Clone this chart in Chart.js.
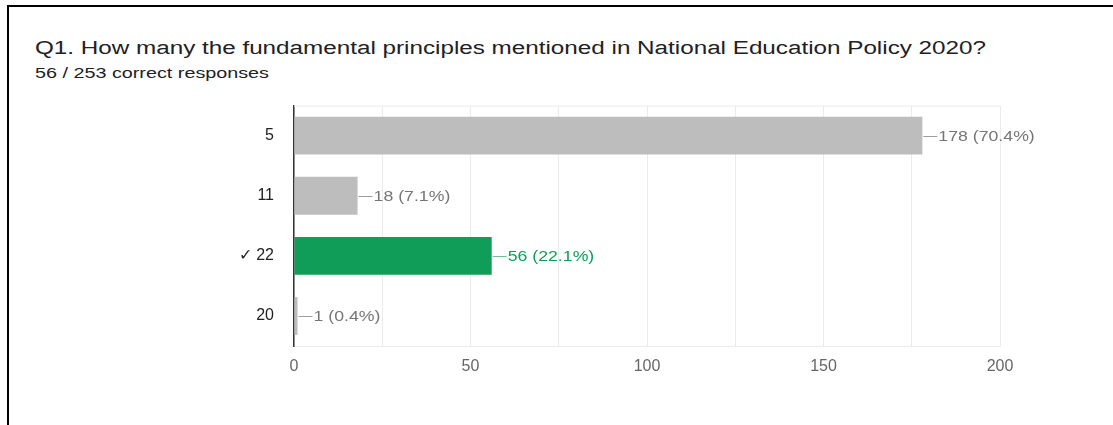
<!DOCTYPE html>
<html lang="en">
<head>
    <meta charset="UTF-8">
    <title>Q1 responses</title>
    <script src="https://cdn.jsdelivr.net/npm/chart.js"></script>
    <style>
        body {
            margin: 0;
            width: 1113px;
            height: 425px;
            overflow: hidden;
            background: #fff;
            font-family: "Liberation Sans", Arial, sans-serif;
        }
        #frame {
            position: absolute;
            left: 7px;
            top: 5px;
            right: 0;
            bottom: -10px;
            border-top: 2px solid #000;
            border-left: 2px solid #000;
        }
        .head {
            position: absolute;
            left: 35px;
            white-space: nowrap;
            line-height: 1;
            color: #202124;
            transform-origin: left top;
        }
        #title { top: 39px; font-size: 18px; }
        #subtitle { top: 66px; font-size: 14px; }
        #chartBox {
            position: absolute;
            left: 0;
            top: 84px;
            width: 1113px;
            height: 306px;
        }
    </style>
</head>
<body>
    <div id="frame"></div>
    <span class="head" id="title">Q1. How many the fundamental principles mentioned in National Education Policy 2020?</span>
    <span class="head" id="subtitle">56 / 253 correct responses</span>
    <div id="chartBox"><canvas id="barChart"></canvas></div>

    <script>
        // answers and response counts
        const answers = ['5', '11', '✓ 22', '20'];
        const counts = [178, 18, 56, 1];
        const percents = ['70.4', '7.1', '22.1', '0.4'];
        const correctIndex = 2;
        const xTicks = [0, 50, 100, 150, 200];

        const GREY = '#bdbdbd';
        const GREEN = '#0f9d58';
        const FONT = '"Liberation Sans", Arial, sans-serif';

        // stretch header text to the width it has in the reference
        function fitWidth(id, target) {
            const el = document.getElementById(id);
            const w = el.getBoundingClientRect().width;
            el.style.transform = 'scaleX(' + (target / w) + ')';
        }
        fitWidth('title', 951);
        fitWidth('subtitle', 234);

        const valueLabels = {
            id: 'valueLabels',
            afterDatasetsDraw(chart) {
                const ctx = chart.ctx;
                const meta = chart.getDatasetMeta(0);
                ctx.save();
                // light line along the top of the plot
                ctx.strokeStyle = '#ebebeb';
                ctx.lineWidth = 1;
                ctx.beginPath();
                ctx.moveTo(chart.chartArea.left, chart.chartArea.top + 0.5);
                ctx.lineTo(chart.chartArea.right, chart.chartArea.top + 0.5);
                ctx.stroke();

                ctx.font = '15px ' + FONT;
                ctx.textBaseline = 'middle';
                ctx.textAlign = 'left';
                meta.data.forEach((bar, i) => {
                    const x = bar.x;
                    const y = Math.round(bar.y) + 0.5;
                    ctx.strokeStyle = i === correctIndex ? '#6fbf95' : '#9e9e9e';
                    ctx.beginPath();
                    ctx.moveTo(x + 1, y);
                    ctx.lineTo(x + 15, y);
                    ctx.stroke();
                    ctx.fillStyle = i === correctIndex ? GREEN : '#757575';
                    ctx.save();
                    ctx.translate(x + 16, y);
                    ctx.scale(1.18, 1);
                    ctx.fillText(counts[i] + ' (' + percents[i] + '%)', 0, 0);
                    ctx.restore();
                });
                ctx.restore();
            }
        };

        new Chart(document.getElementById('barChart'), {
            type: 'bar',
            data: {
                labels: answers,
                datasets: [{
                    data: counts,
                    backgroundColor: counts.map((c, i) => i === correctIndex ? GREEN : GREY),
                    barPercentage: 0.63,
                    categoryPercentage: 1,
                }],
            },
            options: {
                indexAxis: 'y',
                responsive: true,
                maintainAspectRatio: false,
                animation: false,
                layout: { padding: { left: 0, right: 113, top: 0, bottom: 0 } },
                plugins: {
                    legend: { display: false },
                    tooltip: { enabled: false },
                },
                scales: {
                    x: {
                        min: 0,
                        max: 200,
                        afterFit: (scale) => { scale.height = 44; },
                        grid: { color: '#ebebeb', drawTicks: false },
                        border: { color: '#ebebeb' },
                        ticks: {
                            stepSize: 25,
                            padding: 11,
                            color: '#666',
                            font: { family: FONT, size: 16 },
                            callback: (v) => xTicks.includes(v) ? v : '',
                        },
                    },
                    y: {
                        afterFit: (scale) => { scale.width = 294; },
                        grid: { display: false },
                        border: { color: '#333', width: 1.5 },
                        ticks: {
                            padding: 12,
                            color: '#222',
                            font: { family: FONT, size: 16 },
                        },
                    },
                },
            },
            plugins: [valueLabels],
        });
    </script>
</body>
</html>
